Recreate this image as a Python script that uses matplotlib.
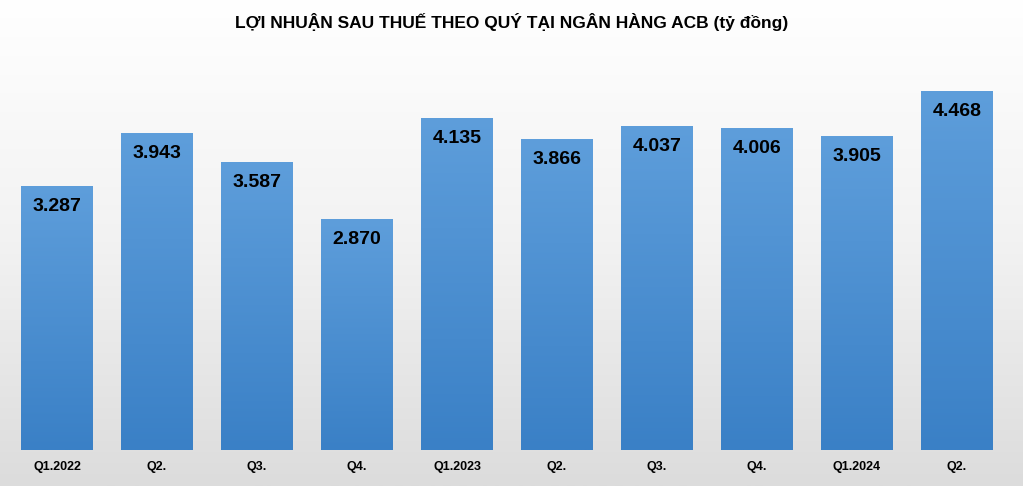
import numpy as np
import matplotlib.pyplot as plt

quarters = ['Q1.2022', 'Q2.', 'Q3.', 'Q4.', 'Q1.2023', 'Q2.', 'Q3.', 'Q4.', 'Q1.2024', 'Q2.']
profit = [3287, 3943, 3587, 2870, 4135, 3866, 4037, 4006, 3905, 4468]

fig = plt.figure(figsize=(10.23, 4.86), dpi=100)
# background gradient
bg = fig.add_axes([0, 0, 1, 1], zorder=-1)
grad = np.linspace(0, 1, 256).reshape(-1, 1)
bg.imshow(grad, aspect='auto', cmap=plt.matplotlib.colors.LinearSegmentedColormap.from_list(
    'bg', ['#ffffff', '#f2f2f2', '#dcdcdc']), extent=[0, 1, 0, 1], origin='upper')
bg.axis('off')

ax = fig.add_axes([8 / 1023, 36 / 486, 1000 / 1023, 410 / 486])
ax.patch.set_alpha(0)
x = np.arange(len(quarters))
bars = ax.bar(x, profit, width=0.72, color='#4f93d4')
ymax = 410 / 80.35 * 1000
ax.set_ylim(0, ymax)
ax.set_xlim(-0.49, len(quarters) - 0.49)

bar_cmap = plt.matplotlib.colors.LinearSegmentedColormap.from_list('b', ['#3a80c6', '#5e9edb'])
for b in bars:
    bx = b.get_x()
    w, h = b.get_width(), b.get_height()
    im = ax.imshow(grad[::-1], aspect='auto', cmap=bar_cmap, extent=[bx, bx + w, 0, h],
                   origin='upper', zorder=2)
    im.set_clip_path(b)
    b.set_alpha(0)

for xi, v in zip(x, profit):
    ax.text(xi, v - 150, f'{v:,}'.replace(',', '.'), ha='center', va='top',
            fontsize=14, fontweight='bold', color='black', zorder=3, family='Liberation Sans')

ax.set_xticks(x)
ax.set_xticklabels(quarters, fontsize=9, fontweight='bold', family='Liberation Sans')
ax.tick_params(axis='x', length=0, pad=8)
ax.set_yticks([])
for s in ax.spines.values():
    s.set_visible(False)

fig.text(0.5, 0.955, 'LỢI NHUẬN SAU THUẾ THEO QUÝ TẠI NGÂN HÀNG ACB (tỷ đồng)',
         ha='center', va='center', fontsize=12.5, fontweight='bold', family='Liberation Sans')

fig.savefig('out.png', dpi=100)
